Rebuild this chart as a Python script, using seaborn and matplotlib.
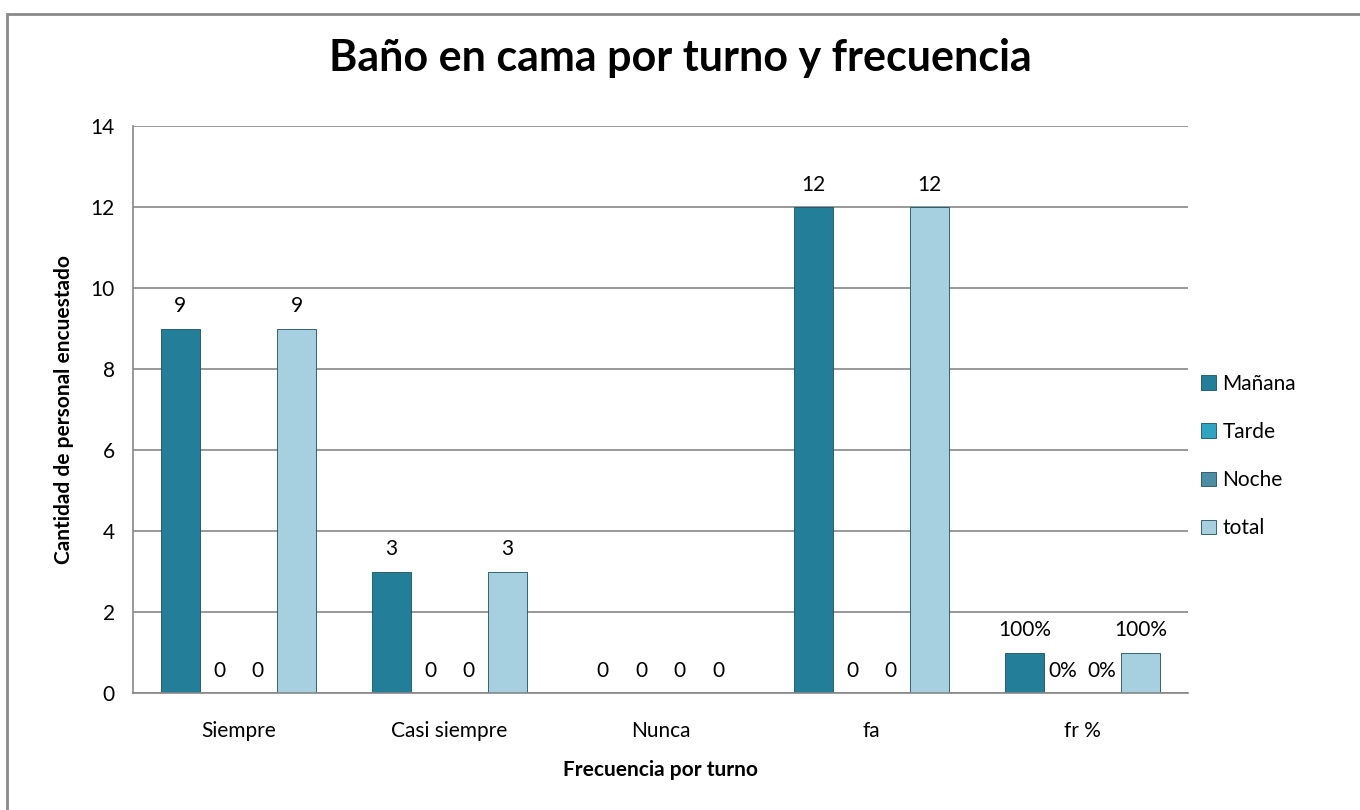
import pandas as pd
import seaborn as sns
import matplotlib.pyplot as plt
from matplotlib.patches import Rectangle

categorias = ["Siempre", "Casi siempre", "Nunca", "fa", "fr %"]
turnos = ["Mañana", "Tarde", "Noche", "total"]
manana = [9, 3, 0, 12, 1]
tarde = [0, 0, 0, 0, 0]
noche = [0, 0, 0, 0, 0]
total = [9, 3, 0, 12, 1]
colores = ["#237f99", "#2fa3c2", "#4d8ea5", "#a6cfdf"]

df = pd.DataFrame({
    "frecuencia": categorias * 4,
    "turno": [t for t in turnos for _ in categorias],
    "valor": manana + tarde + noche + total,
})

sns.set_style("white")
plt.rcParams['font.family'] = ['Lato', 'DejaVu Sans']
plt.rcParams['text.color'] = 'black'
plt.rcParams['axes.labelcolor'] = 'black'
plt.rcParams['xtick.color'] = 'black'
plt.rcParams['ytick.color'] = 'black'

fig = plt.figure(figsize=(13.6, 8.1), dpi=100)
ax = fig.add_axes([0.0978, 0.1444, 0.7757, 0.7])

sns.barplot(data=df, x="frecuencia", y="valor", hue="turno", order=categorias,
            hue_order=turnos, palette=colores, width=0.735, gap=0, saturation=1,
            edgecolor="#1d4f5e", linewidth=0.6, ax=ax)

# etiquetas: ultima categoria en porcentaje
for cont, t in zip(ax.containers, turnos):
    labels = []
    for cat, bar in zip(categorias, cont):
        h = bar.get_height()
        if cat == "fr %":
            labels.append(f"{h:.0%}")
        else:
            labels.append(f"{h:.0f}")
    ax.bar_label(cont, labels=labels, padding=9, fontsize=15)

ax.set_ylim(0, 14)
ax.set_yticks(range(0, 15, 2))
ax.set_xlim(-0.5, 4.5)
ax.yaxis.grid(True, color="#878787", linewidth=1.2)
ax.set_axisbelow(True)
for s in ["top", "right"]:
    ax.spines[s].set_visible(False)
ax.spines["left"].set_color("#878787")
ax.spines["bottom"].set_color("#878787")
ax.spines["left"].set_linewidth(1.2)
ax.spines["bottom"].set_linewidth(1.2)
ax.set_xticks([i - 0.5 for i in range(6)], minor=True)
ax.tick_params(axis="x", which="major", length=0, labelsize=15, pad=20)
ax.tick_params(axis="x", which="minor", length=7, color="#878787", width=1.2)
ax.tick_params(axis="y", length=7, color="#878787", width=1.2, labelsize=15, pad=6)

ax.set_xlabel("Frecuencia por turno", fontsize=15, fontweight="bold", labelpad=14)
ax.set_ylabel("Cantidad de personal encuestado", fontsize=15, fontweight="bold", labelpad=12)
fig.text(0.5, 0.928, "Baño en cama por turno y frecuencia", fontsize=31,
         fontweight="bold", ha="center", va="center")

ax.legend(loc="center left", bbox_to_anchor=(0.995, 0.418), frameon=False,
          fontsize=15, handlelength=0.7, handleheight=0.7, handletextpad=0.3,
          labelspacing=1.35)

# marco del grafico (solo se ven lados izquierdo y superior)
fig.patches.append(Rectangle((7 / 1360, -0.2), 1.2, 1.2 - 14 / 810,
                             transform=fig.transFigure, fill=False,
                             edgecolor="#8a8a8a", linewidth=2))

fig.savefig("out.png", dpi=100)
